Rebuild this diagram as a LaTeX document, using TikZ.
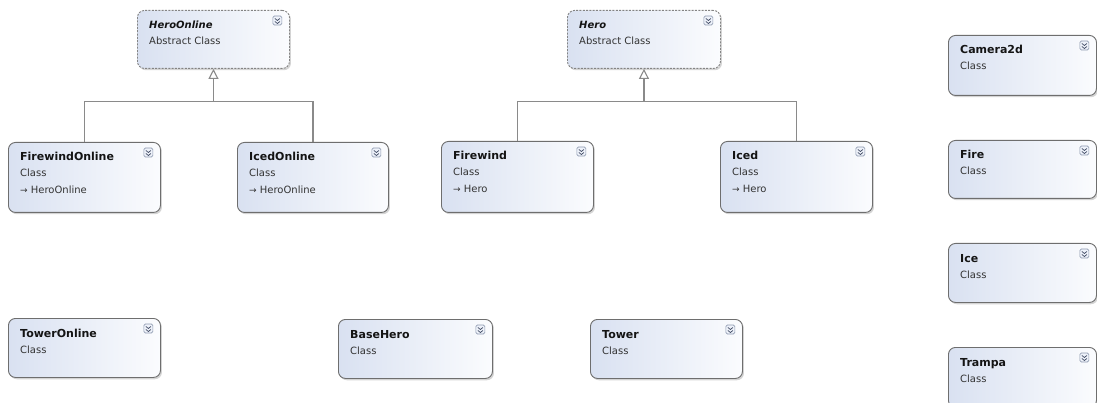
\documentclass[tikz,border=0pt]{standalone}
\usepackage{fontspec}
\setmainfont{DejaVu Sans}
\usetikzlibrary{arrows.meta,shadows}

\definecolor{boxline}{HTML}{6E6E6E}
\definecolor{boxfillL}{HTML}{D9E1F1}
\definecolor{boxfillR}{HTML}{FBFCFE}
\definecolor{connline}{HTML}{8A8A8A}
\definecolor{ink}{HTML}{141414}
\definecolor{subink}{HTML}{333333}
\definecolor{iconline}{HTML}{8E9AB0}
\definecolor{iconfill}{HTML}{EEF2FA}
\definecolor{iconink}{HTML}{3C4660}

\tikzset{
  classbox/.style={draw=boxline, line width=0.9pt, rounded corners=7pt,
    left color=boxfillL, right color=boxfillR, inner sep=0pt, anchor=north west,
    drop shadow={shadow xshift=1.5pt, shadow yshift=-1.8pt, opacity=0.3, fill=black!55}},
  abstractbox/.style={classbox, draw=boxline!85, dash pattern=on 2pt off 1.3pt},
  titletext/.style={anchor=base west, inner sep=0pt, text=ink,
    font=\fontsize{11}{13}\selectfont\bfseries},
  abstracttitle/.style={titletext, font=\fontsize{10}{12}\selectfont\bfseries\itshape},
  kindtext/.style={anchor=base west, inner sep=0pt, text=subink,
    font=\fontsize{10}{12}\selectfont},
  iconbox/.style={draw=iconline, fill=iconfill, line width=0.6pt, rounded corners=1.5pt},
  chevron/.style={draw=iconink, line width=0.7pt},
  gen/.style={draw=connline, line width=1.2pt},
  genhead/.style={gen, -{Triangle[open, length=10pt, width=10pt, line width=1.1pt]}}
}

% collapse/expand button in the top right corner of a class box
\newcommand{\expandericon}[1]{%
  \draw[iconbox] ([shift={(-17,6)}]#1.north east) rectangle ++(9,9);
  \draw[chevron] ([shift={(-15,8.5)}]#1.north east) -- ++(2.5,2) -- ++(2.5,-2);
  \draw[chevron] ([shift={(-15,11.5)}]#1.north east) -- ++(2.5,2) -- ++(2.5,-2);
}

% #1 name, #2 box style, #3 top-left corner, #4 width, #5 height,
% #6 title style, #7 title, #8 kind
\newcommand{\umlclass}[8]{%
  \node[#2, minimum width=#4pt, minimum height=#5pt] (#1) at #3 {};
  \node[#6] (#1-title) at ([shift={(12,19)}]#1.north west) {#7};
  \node[kindtext] (#1-kind) at ([shift={(12,35)}]#1.north west) {#8};
  \expandericon{#1}
}

% base class line under the kind
\newcommand{\baseline}[2]{%
  \node[kindtext] (#1-base) at ([shift={(12,52)}]#1.north west)
    {{\fontsize{9}{10}\selectfont →}\ #2};
}

\begin{document}
\begin{tikzpicture}[x=1pt, y=-1pt]
  \fill[white] (0,0) rectangle (1097,403);
  \useasboundingbox (0,0) rectangle (1097,403);

  % online hierarchy
  \umlclass{ho}{abstractbox}{(137,10)}{152}{58}{abstracttitle}{HeroOnline}{Abstract Class}
  \umlclass{fwo}{classbox}{(8,142)}{152}{70}{titletext}{FirewindOnline}{Class}
  \baseline{fwo}{HeroOnline}
  \umlclass{ico}{classbox}{(237,142)}{151}{70}{titletext}{IcedOnline}{Class}
  \baseline{ico}{HeroOnline}

  % local hierarchy
  \umlclass{hero}{abstractbox}{(567,10)}{153}{58}{abstracttitle}{Hero}{Abstract Class}
  \umlclass{fw}{classbox}{(441,141)}{152}{71}{titletext}{Firewind}{Class}
  \baseline{fw}{Hero}
  \umlclass{iced}{classbox}{(720,141)}{152}{71}{titletext}{Iced}{Class}
  \baseline{iced}{Hero}

  % standalone classes
  \umlclass{two}{classbox}{(8,318)}{152}{59}{titletext}{TowerOnline}{Class}
  \umlclass{bh}{classbox}{(338,319)}{154}{59}{titletext}{BaseHero}{Class}
  \umlclass{tw}{classbox}{(590,319)}{152}{59}{titletext}{Tower}{Class}

  \umlclass{cam}{classbox}{(948,35)}{148}{60}{titletext}{Camera2d}{Class}
  \umlclass{fire}{classbox}{(948,140)}{148}{58}{titletext}{Fire}{Class}
  \umlclass{ice}{classbox}{(948,243)}{148}{59}{titletext}{Ice}{Class}
  \umlclass{trp}{classbox}{(948,347)}{148}{60}{titletext}{Trampa}{Class}

  % generalisation connectors
  \path ([shift={(0,33)}]ho.south) coordinate (ho-j);
  \draw[gen] (fwo.north) |- (ho-j);
  \draw[gen] (ico.north) |- (ho-j);
  \draw[genhead] (ho-j) -- (ho.south);

  \path ([shift={(0,33)}]hero.south) coordinate (hero-j);
  \draw[gen] (fw.north) |- (hero-j);
  \draw[gen] (iced.north) |- (hero-j);
  \draw[genhead] (hero-j) -- (hero.south);
\end{tikzpicture}
\end{document}
